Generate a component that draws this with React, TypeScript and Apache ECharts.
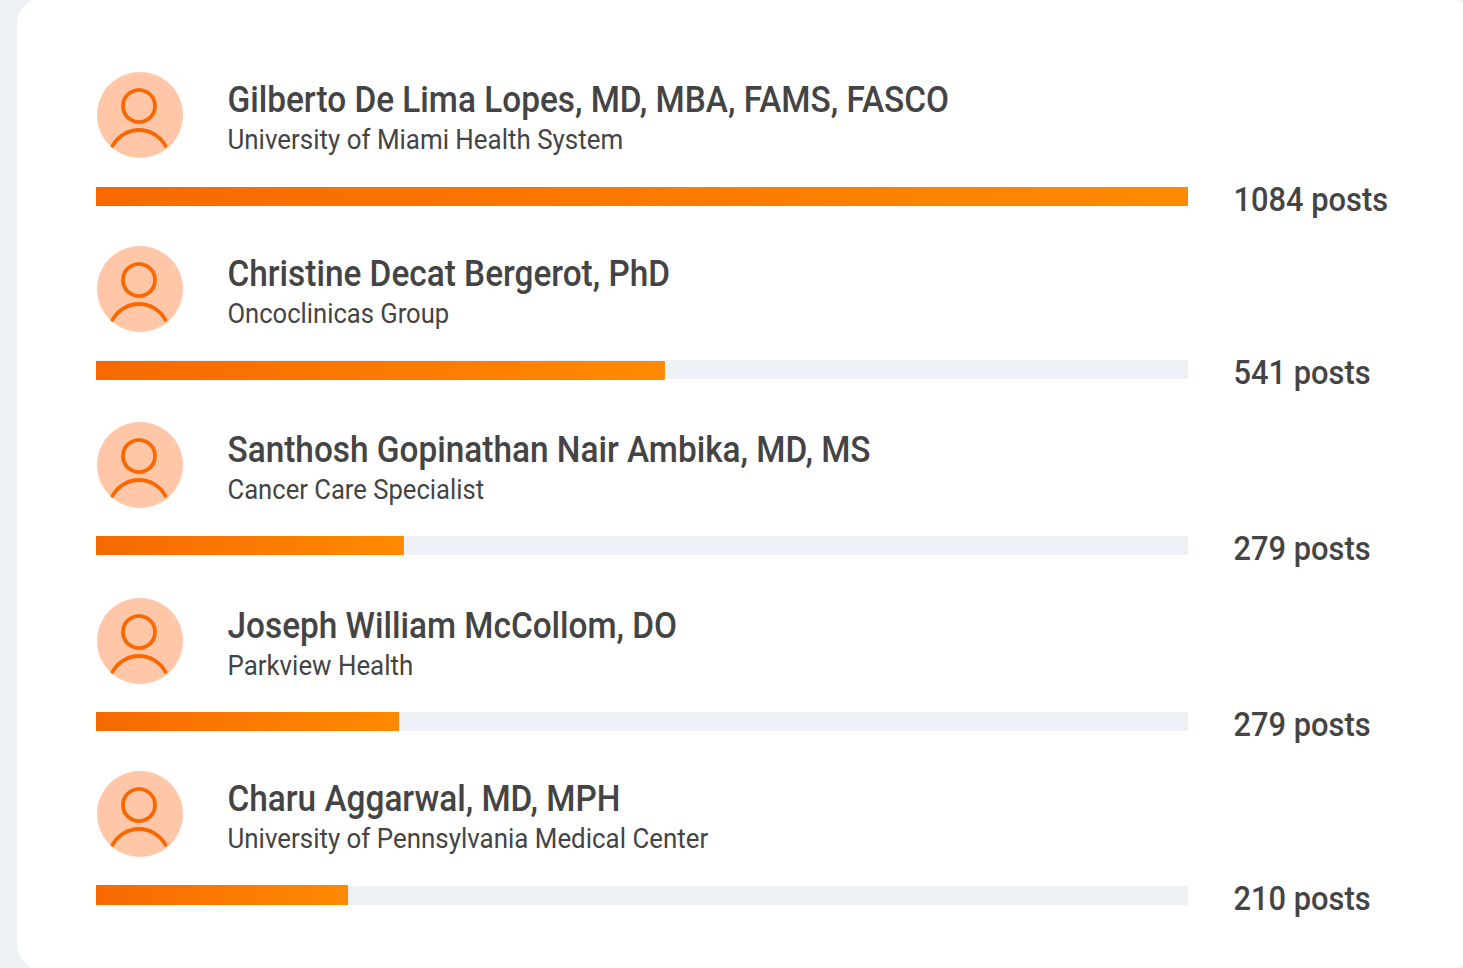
import React, { useEffect, useRef } from "react";
import * as echarts from "echarts";

const names = [
  "Gilberto De Lima Lopes, MD, MBA, FAMS, FASCO",
  "Christine Decat Bergerot, PhD",
  "Santhosh Gopinathan Nair Ambika, MD, MS",
  "Joseph William McCollom, DO",
  "Charu Aggarwal, MD, MPH",
];
const orgs = [
  "University of Miami Health System",
  "Oncoclinicas Group",
  "Cancer Care Specialist",
  "Parkview Health",
  "University of Pennsylvania Medical Center",
];
const postLabels = ["1084 posts", "541 posts", "279 posts", "279 posts", "210 posts"];
const barPercents = [100, 52.1, 28.2, 27.75, 23.08];
const trackPercent = 100;

const rowTops = [72, 246, 422, 598, 771];
const trackTops = [187, 360, 536, 712, 886];
const fillTops = [187, 361, 536, 712, 885];
const fillHeights = [19, 19, 19, 19, 20];
const orgScales = [0.926, 0.914, 0.915, 0.924, 0.925];
const W = 1463;
const H = 968;
const TEXT = "#444444";

function label(text: string, x: number, y: number, scaleX: number, font: string) {
  return {
    type: "text",
    x,
    y,
    scaleX,
    style: { text, fill: TEXT, font, textVerticalAlign: "middle" },
  };
}

function rowGraphics(i: number) {
  const t = rowTops[i];
  return [
    { type: "circle", shape: { cx: 140, cy: t + 43, r: 43 }, style: { fill: "#ffc7a8" } },
    { type: "circle", shape: { cx: 139, cy: t + 34, r: 16 }, style: { fill: "none", stroke: "#f76900", lineWidth: 3.8 } },
    {
      type: "arc",
      shape: { cx: 139, cy: t + 88, r: 30, startAngle: Math.PI + 0.49, endAngle: 2 * Math.PI - 0.49, clockwise: true },
      style: { fill: "none", stroke: "#f76900", lineWidth: 3.8, lineCap: "round" },
    },
    label(names[i], 227.5, t + 27.5, 0.902, "500 37px Roboto"),
    label(orgs[i], 227.5, t + 67.5, orgScales[i], "400 28px Roboto"),
    label(postLabels[i], 1233.5, trackTops[i] + 12, 0.907, "500 34px Roboto"),
  ];
}

export default function App() {
  const ref = useRef<HTMLDivElement>(null);
  useEffect(() => {
    const chart = echarts.init(ref.current!, null, { renderer: "svg" });
    const idx = barPercents.map((_, i) => i);
    const fillGrid = (i: number) => i + idx.length;
    chart.setOption({
      animation: false,
      backgroundColor: "#eef1f6",
      grid: [
        ...idx.map((i) => ({ left: 96, width: 1092, top: trackTops[i], height: 19 })),
        ...idx.map((i) => ({ left: 96, width: 1092, top: fillTops[i], height: fillHeights[i] })),
      ],
      xAxis: [...idx, ...idx.map(fillGrid)].map((g) => ({ type: "value", gridIndex: g, min: 0, max: 100, show: false })),
      yAxis: [...idx, ...idx.map(fillGrid)].map((g) => ({
        type: "category",
        gridIndex: g,
        data: [names[g % idx.length]],
        show: false,
      })),
      series: idx.flatMap((i) => [
        {
          type: "bar", xAxisIndex: i, yAxisIndex: i, data: [trackPercent], barWidth: "100%", silent: true,
          itemStyle: { color: "#eef1f6" }, z: 2,
        },
        {
          type: "bar", xAxisIndex: fillGrid(i), yAxisIndex: fillGrid(i), data: [barPercents[i]], barWidth: "100%", silent: true,
          itemStyle: {
            color: new echarts.graphic.LinearGradient(0, 0, 1, 0, [
              { offset: 0, color: "#f76900" },
              { offset: 1, color: "#ff8a00" },
            ]),
          },
          z: 3,
        },
      ]),
      graphic: [
        { type: "rect", z: 0, shape: { x: 17, y: -3, width: 1456, height: 974, r: 28 }, style: { fill: "#ffffff" } },
        ...idx.flatMap((i) => rowGraphics(i)),
      ],
    });
    return () => chart.dispose();
  }, []);
  return <div ref={ref} style={{ position: "fixed", left: 0, top: 0, width: W, height: H }} />;
}
